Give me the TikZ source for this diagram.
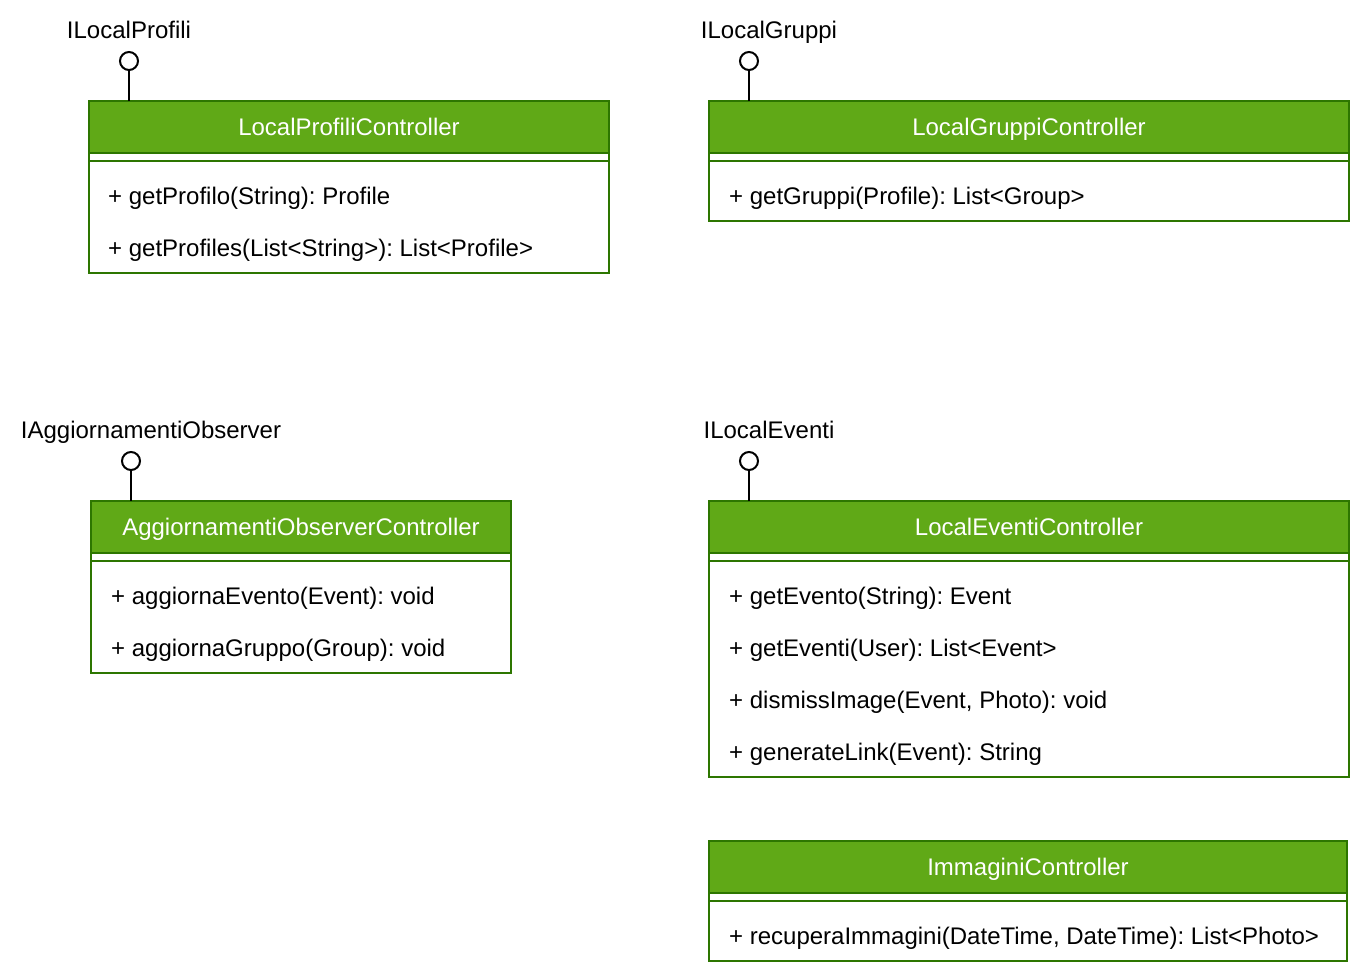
\documentclass[tikz,border=0pt]{standalone}
\usepackage{fontspec}
\setmainfont{Liberation Sans}
\usepackage{tikz}
\usetikzlibrary{positioning,calc}
\definecolor{umlgreen}{HTML}{60A917}
\definecolor{umlgreenline}{HTML}{2D7600}
\frenchspacing
\tikzset{
  umlfont/.style={font=\fontsize{24}{28}\selectfont, text height=17pt, text depth=0pt},
  classhead/.style={umlfont, draw=umlgreenline, fill=umlgreen, text=white, line width=2pt,
    anchor=north west, inner sep=0pt, outer sep=0pt, minimum height=52pt},
  classbody/.style={draw=umlgreenline, fill=white, line width=2pt, anchor=north west,
    inner sep=0pt, outer sep=0pt},
  member/.style={umlfont, anchor=west, inner sep=0pt},
  lollipop/.style={circle, draw, fill=white, line width=2pt, minimum size=18pt, inner sep=0pt},
  ifacename/.style={umlfont, inner sep=0pt},
  separator/.style={draw=umlgreenline, line width=2pt}
}

\begin{document}
\begin{tikzpicture}[x=1pt,y=-1pt]
    \useasboundingbox (0,0) rectangle (1350,966);
    % LocalProfiliController
    \node[classbody, minimum width=520pt, minimum height=120pt] (bodyProfili) at (89,153) {};
    \node[classhead, minimum width=520pt] (headProfili) at (89,101) {LocalProfiliController};
    \draw[separator] ($(bodyProfili.north west)+(0,8)$) -- ($(bodyProfili.north east)+(0,8)$);
    \node[member] (mProfilo) at (108,196) {+ getProfilo(String): Profile};
    \node[member] (mProfiles) at (108,248) {+ getProfiles(List<String>): List<Profile>};
    \node[ifacename] (iProfili) at (129,30) {ILocalProfili};
    \node[lollipop] (lpProfili) at (129,61) {};
    \draw[line width=2pt] (lpProfili) -- (lpProfili |- headProfili.north);
    % LocalGruppiController
    \node[classbody, minimum width=640pt, minimum height=68pt] (bodyGruppi) at (709,153) {};
    \node[classhead, minimum width=640pt] (headGruppi) at (709,101) {LocalGruppiController};
    \draw[separator] ($(bodyGruppi.north west)+(0,8)$) -- ($(bodyGruppi.north east)+(0,8)$);
    \node[member] (mGruppi) at (729,196) {+ getGruppi(Profile): List<Group>};
    \node[ifacename] (iGruppi) at (769,30) {ILocalGruppi};
    \node[lollipop] (lpGruppi) at (749,61) {};
    \draw[line width=2pt] (lpGruppi) -- (lpGruppi |- headGruppi.north);
    % AggiornamentiObserverController
    \node[classbody, minimum width=420pt, minimum height=120pt] (bodyObserver) at (91,553) {};
    \node[classhead, minimum width=420pt] (headObserver) at (91,501) {AggiornamentiObserverController};
    \draw[separator] ($(bodyObserver.north west)+(0,8)$) -- ($(bodyObserver.north east)+(0,8)$);
    \node[member] (mEvento) at (111,596) {+ aggiornaEvento(Event): void};
    \node[member] (mGruppo) at (111,648) {+ aggiornaGruppo(Group): void};
    \node[ifacename] (iObserver) at (151,430) {IAggiornamentiObserver};
    \node[lollipop] (lpObserver) at (131,461) {};
    \draw[line width=2pt] (lpObserver) -- (lpObserver |- headObserver.north);
    % LocalEventiController
    \node[classbody, minimum width=640pt, minimum height=224pt] (bodyEventi) at (709,553) {};
    \node[classhead, minimum width=640pt] (headEventi) at (709,501) {LocalEventiController};
    \draw[separator] ($(bodyEventi.north west)+(0,8)$) -- ($(bodyEventi.north east)+(0,8)$);
    \node[member] (mGetEvento) at (729,596) {+ getEvento(String): Event};
    \node[member] (mGetEventi) at (729,648) {+ getEventi(User): List<Event>};
    \node[member] (mDismiss) at (729,700) {+ dismissImage(Event, Photo): void};
    \node[member] (mLink) at (729,752) {+ generateLink(Event): String};
    \node[ifacename] (iEventi) at (769,430) {ILocalEventi};
    \node[lollipop] (lpEventi) at (749,461) {};
    \draw[line width=2pt] (lpEventi) -- (lpEventi |- headEventi.north);
    % ImmaginiController
    \node[classbody, minimum width=638pt, minimum height=68pt] (bodyImmagini) at (709,893) {};
    \node[classhead, minimum width=638pt] (headImmagini) at (709,841) {ImmaginiController};
    \draw[separator] ($(bodyImmagini.north west)+(0,8)$) -- ($(bodyImmagini.north east)+(0,8)$);
    \node[member] (mRecupera) at (729,936) {+ recuperaImmagini(DateTime, DateTime): List<Photo>};
\end{tikzpicture}
\end{document}
